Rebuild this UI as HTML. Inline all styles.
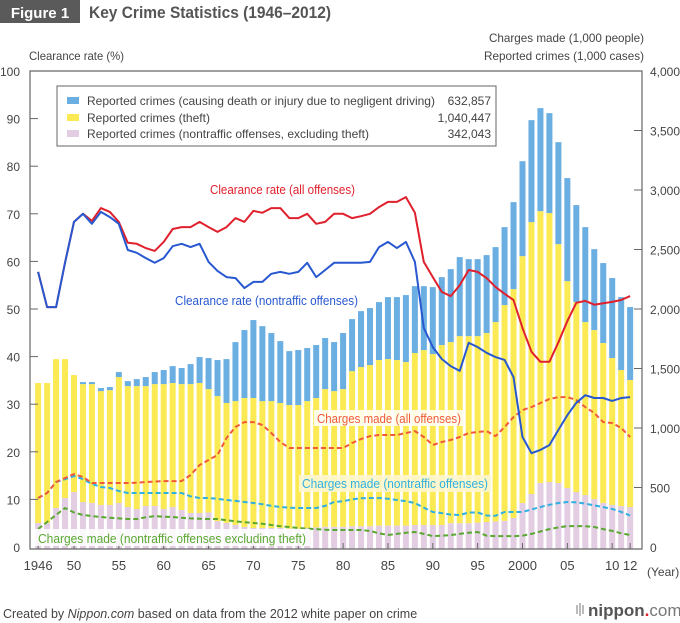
<!DOCTYPE html>
<html><head><meta charset="utf-8"><style>
html,body{margin:0;padding:0;background:#fff;}
svg{display:block;font-family:"Liberation Sans Narrow","Liberation Sans",sans-serif;}
</style></head><body>
<svg id="chart" width="680" height="623" viewBox="0 0 680 623" xmlns="http://www.w3.org/2000/svg">
<rect x="0" y="0" width="80" height="23" fill="#5a5a5a"/>
<text x="40" y="18" text-anchor="middle" font-family="Liberation Sans,sans-serif" font-weight="bold" font-size="15" fill="#fff">Figure 1</text>
<text x="89" y="18" font-family="Liberation Sans,sans-serif" font-weight="bold" font-size="17" fill="#555" textLength="242" lengthAdjust="spacingAndGlyphs">Key Crime Statistics (1946–2012)</text>
<text x="29" y="60" font-size="12" fill="#444" textLength="95" lengthAdjust="spacingAndGlyphs">Clearance rate (%)</text>
<text x="644" y="42" text-anchor="end" font-size="12" fill="#444" textLength="155" lengthAdjust="spacingAndGlyphs">Charges made (1,000 people)</text>
<text x="644" y="60" text-anchor="end" font-size="12" fill="#444" textLength="160" lengthAdjust="spacingAndGlyphs">Reported crimes (1,000 cases)</text>
<g id="bars"></g>
<g id="axes"></g>
<g id="lines"></g>
<g>
<rect x="57" y="86" width="439" height="60" fill="#fff" stroke="#666" stroke-width="1"/>
<rect x="67" y="97" width="12" height="7" fill="#6aaee2"/>
<text x="87" y="105" font-size="12" fill="#444" textLength="348" lengthAdjust="spacingAndGlyphs">Reported crimes (causing death or injury due to negligent driving)</text>
<text x="491" y="105" text-anchor="end" font-size="12" fill="#444">632,857</text>
<rect x="67" y="114" width="12" height="7" fill="#fcea55"/>
<text x="87" y="122" font-size="12" fill="#444" textLength="123" lengthAdjust="spacingAndGlyphs">Reported crimes (theft)</text>
<text x="491" y="122" text-anchor="end" font-size="12" fill="#444">1,040,447</text>
<rect x="67" y="130" width="12" height="7" fill="#e2cde2"/>
<text x="87" y="138" font-size="12" fill="#444" textLength="282" lengthAdjust="spacingAndGlyphs">Reported crimes (nontraffic offenses, excluding theft)</text>
<text x="491" y="138" text-anchor="end" font-size="12" fill="#444">342,043</text>
</g>
<g>
<text x="210" y="194" font-size="13" fill="#e0202c" textLength="145" lengthAdjust="spacingAndGlyphs">Clearance rate (all offenses)</text>
<text x="175" y="305" font-size="13" fill="#2858d0" textLength="183" lengthAdjust="spacingAndGlyphs">Clearance rate (nontraffic offenses)</text>
<rect x="314" y="410" width="150" height="16" fill="#fff" opacity="0.85"/>
<text x="317" y="423" font-size="13" fill="#f05a3a" textLength="144" lengthAdjust="spacingAndGlyphs">Charges made (all offenses)</text>
<rect x="299" y="475" width="192" height="17" fill="#fdf6d0" opacity="0.9"/>
<text x="302" y="488" font-size="13" fill="#30b0e0" textLength="186" lengthAdjust="spacingAndGlyphs">Charges made (nontraffic offenses)</text>
<rect x="35" y="529" width="275" height="17" fill="#fff" opacity="0.85"/>
<text x="38" y="543" font-size="13" fill="#5aa832" textLength="268" lengthAdjust="spacingAndGlyphs">Charges made (nontraffic offenses excluding theft)</text>
</g>
<text x="3" y="618" font-family="Liberation Sans,sans-serif" font-size="12.5" fill="#444">Created by <tspan font-style="italic">Nippon.com</tspan> based on data from the 2012 white paper on crime</text>
<g>
<rect x="576" y="605" width="2" height="9" fill="#bbb"/><rect x="579" y="603" width="2" height="13" fill="#bbb"/><rect x="582" y="605" width="2" height="9" fill="#bbb"/>
<text x="588" y="616" font-family="Liberation Sans,sans-serif" font-size="17" font-weight="bold" fill="#555">nippon<tspan fill="#e0202c">.</tspan><tspan font-weight="normal" fill="#777">com</tspan></text>
</g>
</svg>
<script>
const years = [];
for (let y = 1946; y <= 2012; y++) years.push(y);
const otherCrimes = [202,202,328,412,462,378,370,353,353,370,336,319,345,345,319,336,311,286,286,290,218,202,185,168,160,160,160,160,155,155,160,165,170,170,170,175,175,175,180,180,180,180,185,185,185,185,200,200,200,205,210,215,220,244,370,445,538,546,538,496,462,437,403,370,353,344,336];
const theftTop = [1378,1378,1579,1579,1445,1369,1369,1310,1318,1428,1352,1352,1352,1369,1369,1378,1369,1369,1378,1327,1268,1210,1226,1252,1252,1226,1226,1210,1193,1193,1226,1252,1327,1310,1327,1478,1512,1529,1571,1579,1571,1554,1630,1655,1621,1697,1722,1772,1772,1772,1798,1890,2033,2167,2444,2730,2822,2806,2545,2234,2058,1890,1823,1714,1588,1487,1403];
const totalCrimes = [1378,1378,1579,1579,1445,1386,1386,1336,1344,1470,1394,1411,1428,1470,1487,1520,1504,1537,1596,1588,1571,1579,1722,1823,1907,1856,1798,1730,1646,1655,1672,1697,1756,1722,1798,1915,1982,2008,2058,2100,2100,2117,2192,2192,2184,2268,2335,2436,2419,2419,2453,2520,2688,2898,3242,3587,3688,3646,3402,3100,2873,2688,2503,2386,2260,2100,2016];
const clearAll = [57.8,50.4,50.4,59.7,68.3,70,68.5,71.2,70.4,68.3,63.9,63.7,62.8,62.2,64.1,66.8,67.2,67.2,68.3,67.2,66.2,67.2,69.1,68.3,70.6,70.2,71.2,71.2,69.1,69.1,70,67.9,68.3,70,70,69.1,69.5,70,71.4,72.5,72.5,73.5,70.2,59.9,56.7,53.6,52.7,55,58.2,57.8,56.5,54.6,53.2,51.9,46,41,38.9,38.9,43,47.5,51.3,51.7,50.9,51.2,51.5,51.9,52.7];
const clearNontraffic = [57.8,50.4,50.4,59.7,68.3,70,67.9,70.4,69.3,67.9,62.4,61.8,60.7,59.7,60.7,63.2,63.7,63,63.7,59.9,58,56.7,56.5,54.4,55.7,55.7,57.4,57.8,57.4,57.8,59.7,56.7,58.2,59.7,59.7,59.7,59.7,59.9,63,64.1,62.8,64.1,59.9,46,42,39.5,38,37,42.9,42,40.8,39.9,39.3,35.7,23.1,19.7,20.4,21.4,24.6,27.7,30.3,31.9,31.3,31.3,30.7,31.3,31.5];
const chargesAll = [412,454,546,580,613,588,538,538,538,538,538,540,546,550,554,554,554,605,689,731,773,916,1008,1050,1050,1025,958,882,832,832,832,832,832,832,832,874,907,932,941,941,941,958,974,924,857,882,899,924,958,966,974,932,1008,1092,1151,1176,1210,1243,1260,1260,1235,1176,1126,1050,1042,1000,924];
const chargesNontraffic = [412,454,546,570,597,571,530,504,496,470,454,454,454,454,454,454,454,425,412,412,405,395,387,378,370,360,345,336,330,328,328,328,345,378,385,400,410,412,412,405,395,385,370,330,294,285,272,269,290,290,265,262,294,294,294,315,336,355,370,378,375,365,350,335,320,295,265];
const chargesExclTheft = [151,210,270,328,290,269,260,252,245,240,235,235,250,260,255,252,245,240,238,235,235,225,215,208,202,195,185,175,168,160,155,150,145,143,143,143,143,135,115,101,110,120,126,110,92,95,100,110,120,126,95,92,92,92,95,110,130,150,165,176,176,175,168,150,135,115,101];
const leftTicks = [0,10,20,30,40,50,60,70,80,90,100];
const rightTicks = [0,500,1000,1500,2000,2500,3000,3500,4000];
const rightTickLabels = ["0","500","1,000","1,500","2,000","2,500","3,000","3,500","4,000"];
const xTickYears = [1946,1950,1955,1960,1965,1970,1975,1980,1985,1990,1995,2000,2005,2010,2012];
const xTickLabels = ["1946","50","55","60","65","70","75","80","85","90","95","2000","05","10","12"];

const NS = "http://www.w3.org/2000/svg";
const X0 = 30, X1 = 642, Y0 = 547, Y100 = 71;
function xs(year){ return 74 + (year - 1950) * 8.97; }
function yPct(v){ return Y0 - (Y0 - Y100) * v / 100; }
function yK(v){ return Y0 - (Y0 - Y100) * v / 4000; }
function mk(tag, attrs, parent){ const e = document.createElementNS(NS, tag); for (const k in attrs) e.setAttribute(k, attrs[k]); parent.appendChild(e); return e; }

const bars = document.getElementById('bars');
const bw = 6;
years.forEach((yr, i) => {
  const x = xs(yr) - bw/2;
  const b = 549;
  const r1 = mk('rect', {x: x, y: yK(otherCrimes[i]), width: bw, height: b - yK(otherCrimes[i]), fill: '#e2cde2'}, bars);
  
  
  const r2 = mk('rect', {x: x, y: yK(theftTop[i]), width: bw, height: yK(otherCrimes[i]) - yK(theftTop[i]), fill: '#fcea55'}, bars);
  
  
  if (totalCrimes[i] > theftTop[i]) {
    const r3 = mk('rect', {x: x, y: yK(totalCrimes[i]), width: bw, height: yK(theftTop[i]) - yK(totalCrimes[i]), fill: '#6aaee2'}, bars);
    
    
  }
});

const axes = document.getElementById('axes');
const frame = mk('path', {d: `M${X0},${Y100}H${X1}V549H${X0}Z`, fill: 'none', stroke: '#666', 'stroke-width': 1.2}, axes);


leftTicks.forEach(v => {
  const y = yPct(v);
  if (v > 0 && v < 100) mk('line', {x1: X0, x2: X0 + 8, y1: y, y2: y, stroke: '#666'}, axes);
  const t = mk('text', {x: 20, y: y + 5, 'text-anchor': 'end', 'font-size': 12, fill: '#444'}, axes);
  t.textContent = v;
  
  
});
rightTicks.forEach((v, i) => {
  const y = yK(v);
  if (v > 0 && v < 4000) mk('line', {x1: X1 - 8, x2: X1, y1: y, y2: y, stroke: '#666'}, axes);
  const t = mk('text', {x: 650, y: y + 5, 'font-size': 12, fill: '#444'}, axes);
  t.textContent = rightTickLabels[i];
  
  
});
xTickYears.forEach((yr, i) => {
  const x = xs(yr);
  mk('line', {x1: x, x2: x, y1: 543, y2: 549, stroke: '#666'}, axes);
  const t = mk('text', {x: x, y: 570, 'text-anchor': 'middle', 'font-family': 'Liberation Sans,sans-serif', 'font-size': 13, fill: '#444'}, axes);
  t.textContent = xTickLabels[i];
  
  
});
const yl = mk('text', {x: 647, y: 576, 'font-size': 12, fill: '#444'}, axes);
yl.textContent = '(Year)';



const lines = document.getElementById('lines');
function drawLine(vals, yf, color, dash, name){
  const pts = vals.map((v, i) => xs(years[i]).toFixed(1) + ',' + yf(v).toFixed(1)).join(' ');
  const p = mk('polyline', {points: pts, fill: 'none', stroke: color, 'stroke-width': 2, 'stroke-linejoin': 'round'}, lines);
  if (dash) p.setAttribute('stroke-dasharray', '5,3');
  
  
}
drawLine(chargesExclTheft, yK, '#5aa832', true, 'line-charges-excl-theft');
drawLine(chargesNontraffic, yK, '#30b0e0', true, 'line-charges-nontraffic');
drawLine(chargesAll, yK, '#f05a3a', true, 'line-charges-all');
drawLine(clearAll, yPct, '#e0202c', false, 'line-clearance-all');
drawLine(clearNontraffic, yPct, '#2858d0', false, 'line-clearance-nontraffic');
</script>
</body></html>
